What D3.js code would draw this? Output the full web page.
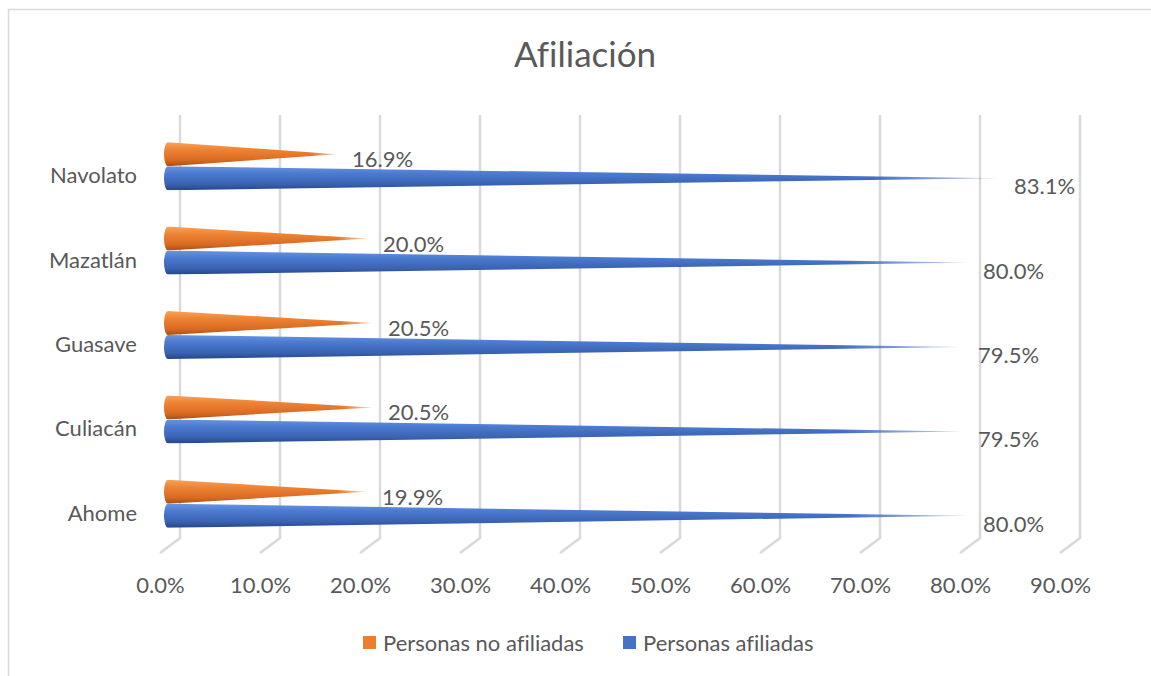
<!DOCTYPE html>
<html>
<head>
<meta charset="utf-8">
<script src="https://cdn.jsdelivr.net/npm/d3@7"></script>
<style>
  body { margin: 0; background: #fff; }
  svg { display: block; font-family: Lato, "Open Sans", sans-serif; font-variant-ligatures: none; }
</style>
</head>
<body>
<div id="chart"></div>
<script>
// data
const categories = ["Ahome", "Culiacán", "Guasave", "Mazatlán", "Navolato"];
const noAfiliadas = [19.9, 20.5, 20.5, 20.0, 16.9];
const afiliadas = [80.0, 79.5, 79.5, 80.0, 83.1];
const tickValues = [0, 10, 20, 30, 40, 50, 60, 70, 80, 90];
const seriesNames = ["Personas no afiliadas", "Personas afiliadas"];

const W = 1151, H = 676;
const textColor = "#595959";
const gridColor = "#d9d9d9";
const fontSize = "22px";

const svg = d3.select("#chart").append("svg")
    .attr("width", W)
    .attr("height", H);

// chart border (runs off the right/bottom edge like the screenshot)
svg.append("rect")
    .attr("x", 8.5).attr("y", 9.5)
    .attr("width", 1200).attr("height", 700)
    .attr("fill", "none")
    .attr("stroke", gridColor)
    .attr("stroke-width", 1.5);

// =========================
// SCALES
// =========================
const x = d3.scaleLinear().domain([0, 90]).range([168, 1068]);
const y = d3.scaleBand()
    .domain(categories.slice().reverse())
    .range([134, 556]);

const backDx = 12, frontDx = -8;          // 3d wall offsets
const wallTop = 115, wallBottom = 538, floorDy = 15, floorDx = -20;

// =========================
// GRID (back wall + floor)
// =========================
const grid = svg.append("g")
    .attr("fill", "none")
    .attr("stroke", gridColor)
    .attr("stroke-width", 2.5);

tickValues.forEach(t => {
    const bx = x(t) + backDx;
    grid.append("path")
        .attr("d", `M${bx},${wallTop} L${bx},${wallBottom} L${bx + floorDx},${wallBottom + floorDy}`);
});

// =========================
// GRADIENTS
// =========================
const defs = svg.append("defs");
function grad(id, stops) {
    const g = defs.append("linearGradient")
        .attr("id", id)
        .attr("x1", 0).attr("y1", 0).attr("x2", 0).attr("y2", 1);
    stops.forEach(([o, c]) => g.append("stop").attr("offset", o).attr("stop-color", c));
}
grad("gOrange", [[0, "#f7a35c"], [0.3, "#ef8434"], [0.75, "#d86a22"], [1, "#a94f15"]]);
grad("gBlue", [[0, "#6a94e0"], [0.3, "#4b7bd1"], [0.75, "#3a62b0"], [1, "#24468a"]]);

// fade towards the tip
const fade = defs.append("linearGradient")
    .attr("id", "tipFade")
    .attr("x1", 0).attr("y1", 0).attr("x2", 1).attr("y2", 0);
fade.append("stop").attr("offset", 0.85).attr("stop-color", "#fff");
fade.append("stop").attr("offset", 1).attr("stop-color", "#fff").attr("stop-opacity", 0.3);
defs.append("mask")
    .attr("id", "coneMask")
    .attr("maskContentUnits", "objectBoundingBox")
    .append("rect")
    .attr("width", 1).attr("height", 1)
    .attr("fill", "url(#tipFade)");

// =========================
// CONES
// =========================
const coneHalf = 12, baseRx = 4;
const series = [
    { name: seriesNames[0], values: noAfiliadas, fill: "url(#gOrange)", dy: -22, labelDy: 13 },
    { name: seriesNames[1], values: afiliadas, fill: "url(#gBlue)", dy: 2, labelDy: 16 }
];

function conePath(x0, tip, cy) {
    return `M${x0},${cy - coneHalf} L${tip},${cy} L${x0},${cy + coneHalf}` +
        ` A${baseRx},${coneHalf} 0 0 1 ${x0},${cy - coneHalf} Z`;
}

series.forEach(s => {
    categories.forEach((c, i) => {
        const cy = y(c) + y.bandwidth() / 2 + s.dy;
        const tip = x(s.values[i]);
        svg.append("path")
            .attr("d", conePath(x(0), tip, cy))
            .attr("fill", s.fill)
            .attr("mask", "url(#coneMask)");

        svg.append("text")
            .attr("x", tip + 15)
            .attr("y", cy + s.labelDy)
            .attr("fill", textColor)
            .style("font-size", fontSize)
            .text(s.values[i].toFixed(1) + "%");
    });
});

// =========================
// AXES
// =========================
const xAxis = svg.append("g")
    .attr("transform", `translate(${frontDx},574)`)
    .call(d3.axisBottom(x).tickValues(tickValues).tickSize(0).tickFormat(d => d.toFixed(1) + "%"));
xAxis.select(".domain").remove();
xAxis.selectAll("text")
    .attr("fill", textColor)
    .style("font-size", fontSize)
    .style("font-family", "Lato, sans-serif");

const yAxis = svg.append("g")
    .attr("transform", "translate(137,0)")
    .call(d3.axisLeft(y).tickSize(0).tickPadding(0));
yAxis.select(".domain").remove();
yAxis.selectAll("text")
    .attr("fill", textColor)
    .style("font-size", fontSize)
    .style("font-family", "Lato, sans-serif");

// =========================
// TITLE
// =========================
svg.append("text")
    .attr("x", 585)
    .attr("y", 67)
    .attr("text-anchor", "middle")
    .attr("fill", textColor)
    .style("font-size", "35px")
    .text("Afiliación");

// =========================
// LEGEND
// =========================
const legendItems = [
    { name: seriesNames[0], color: "#ed7d31", x: 363 },
    { name: seriesNames[1], color: "#4472c4", x: 623 }
];
legendItems.forEach(d => {
    const g = svg.append("g").attr("transform", `translate(${d.x},636)`);
    g.append("rect").attr("width", 13).attr("height", 13).attr("fill", d.color);
    g.append("text")
        .attr("x", 20)
        .attr("y", 15)
        .attr("fill", textColor)
        .style("font-size", fontSize)
        .text(d.name);
});
</script>
</body>
</html>
